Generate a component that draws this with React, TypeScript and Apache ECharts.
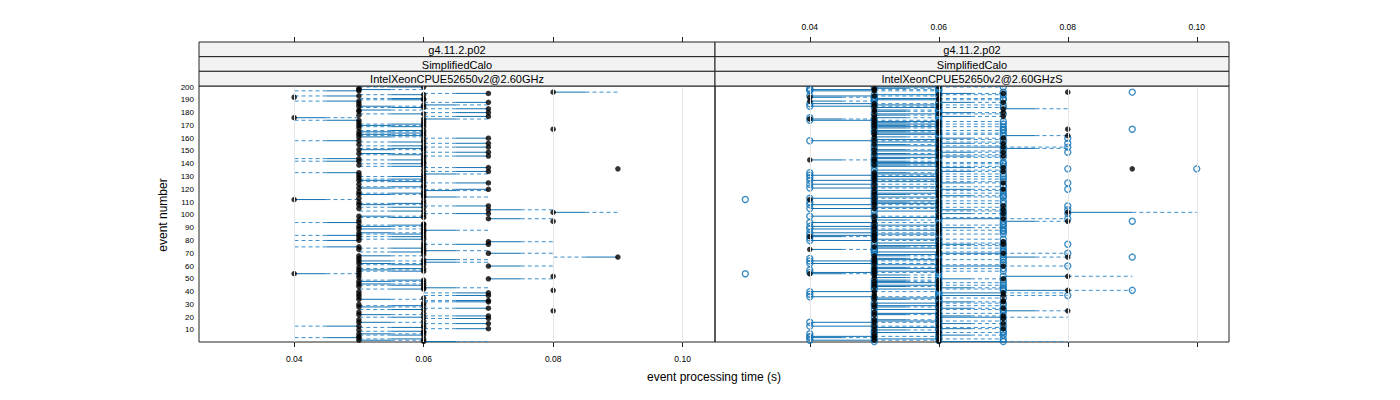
import React, { useEffect, useRef } from "react";
import * as echarts from "echarts";

// ---------------- data ----------------
// reference run (black points), event processing time in ms, events 1..200
const referenceTimesMs = [
  60, 50, 60, 50, 50, 60, 50, 60, 60, 50,
  70, 60, 50, 60, 70, 50, 60, 50, 70, 60,
  70, 50, 60, 50, 80, 60, 70, 50, 60, 50,
  60, 70, 70, 50, 60, 50, 70, 50, 70, 50,
  80, 60, 60, 50, 60, 50, 60, 50, 60, 70,
  50, 80, 50, 40, 50, 60, 50, 60, 50, 70,
  60, 50, 60, 50, 60, 50, 90, 50, 60, 70,
  60, 60, 50, 60, 50, 60, 70, 60, 70, 50,
  60, 50, 60, 50, 60, 50, 60, 60, 50, 60,
  50, 60, 60, 50, 80, 50, 70, 60, 50, 60,
  70, 80, 60, 70, 50, 60, 70, 50, 60, 50,
  60, 40, 50, 60, 60, 50, 60, 50, 60, 70,
  50, 60, 60, 50, 70, 60, 50, 60, 50, 60,
  50, 60, 50, 70, 60, 90, 70, 60, 50, 60,
  60, 50, 60, 50, 60, 70, 60, 50, 70, 60,
  50, 60, 70, 60, 50, 70, 60, 50, 60, 70,
  50, 60, 50, 60, 50, 60, 80, 50, 60, 50,
  60, 50, 60, 50, 60, 40, 70, 50, 60, 70,
  50, 50, 70, 60, 50, 60, 50, 70, 50, 60,
  60, 40, 50, 60, 70, 80, 50, 50, 50, 60,
];

// right panel black points (ms)
const rightTimesMs = [
  60, 50, 60, 50, 50, 60, 50, 60, 60, 50,
  70, 60, 50, 60, 70, 50, 60, 50, 70, 60,
  70, 50, 60, 50, 80, 60, 70, 50, 60, 50,
  60, 70, 70, 50, 60, 50, 70, 50, 70, 50,
  80, 60, 60, 50, 60, 50, 60, 50, 60, 70,
  50, 80, 50, 40, 50, 60, 50, 60, 50, 70,
  60, 50, 60, 50, 60, 50, 80, 50, 60, 70,
  60, 60, 40, 60, 50, 60, 70, 60, 70, 50,
  60, 50, 40, 50, 60, 50, 60, 60, 50, 60,
  50, 60, 60, 50, 80, 50, 70, 60, 50, 60,
  70, 80, 60, 70, 50, 60, 70, 50, 60, 50,
  60, 40, 50, 60, 60, 50, 60, 50, 60, 70,
  50, 60, 60, 50, 70, 60, 50, 60, 50, 60,
  50, 60, 50, 70, 60, 90, 70, 60, 50, 60,
  60, 50, 40, 50, 60, 70, 60, 50, 70, 60,
  50, 60, 70, 60, 50, 70, 60, 50, 60, 70,
  50, 80, 50, 60, 50, 60, 80, 50, 60, 50,
  60, 50, 60, 50, 40, 50, 70, 50, 60, 70,
  50, 50, 70, 60, 50, 60, 50, 70, 40, 60,
  60, 40, 50, 60, 70, 80, 50, 50, 50, 60,
];

// right panel open circles, lower run (ms, 0 = no point)
const rightLowMs = [
  50, 40, 50, 40, 40, 50, 40, 50, 50, 0,
  60, 50, 40, 50, 60, 40, 50, 0, 60, 50,
  60, 0, 50, 0, 70, 50, 60, 0, 50, 0,
  50, 60, 60, 0, 50, 40, 60, 40, 60, 40,
  70, 50, 50, 0, 50, 0, 50, 0, 50, 60,
  0, 70, 0, 30, 40, 50, 40, 50, 0, 60,
  50, 40, 50, 40, 50, 40, 70, 0, 50, 60,
  50, 50, 0, 50, 0, 50, 60, 50, 60, 40,
  50, 40, 0, 40, 50, 40, 50, 50, 40, 50,
  40, 50, 50, 40, 70, 0, 60, 50, 40, 50,
  60, 70, 50, 60, 40, 50, 60, 40, 50, 40,
  50, 30, 40, 50, 50, 0, 50, 0, 50, 60,
  40, 50, 50, 40, 60, 50, 40, 50, 40, 50,
  40, 50, 40, 60, 50, 80, 60, 50, 0, 50,
  50, 0, 0, 0, 50, 60, 50, 0, 60, 50,
  0, 50, 60, 50, 0, 60, 50, 40, 50, 60,
  0, 70, 0, 50, 0, 50, 70, 0, 50, 0,
  50, 0, 50, 40, 0, 40, 60, 0, 50, 60,
  0, 0, 60, 50, 40, 50, 40, 60, 0, 50,
  50, 0, 40, 50, 60, 70, 40, 40, 40, 50,
];

// right panel open circles, upper run (ms, 0 = no point)
const rightHighMs = [
  70, 60, 70, 60, 60, 70, 60, 70, 70, 60,
  0, 70, 60, 70, 0, 60, 70, 60, 0, 70,
  0, 60, 70, 60, 0, 70, 0, 60, 70, 60,
  70, 0, 0, 60, 70, 60, 80, 60, 0, 60,
  90, 70, 70, 60, 70, 60, 70, 60, 70, 0,
  60, 0, 60, 50, 60, 70, 60, 70, 60, 80,
  70, 60, 70, 60, 70, 60, 90, 60, 70, 80,
  70, 70, 50, 70, 60, 70, 80, 70, 0, 60,
  70, 60, 50, 60, 70, 60, 70, 70, 60, 70,
  60, 70, 70, 60, 90, 60, 80, 70, 60, 70,
  80, 0, 70, 80, 60, 70, 80, 60, 70, 60,
  70, 50, 60, 70, 70, 60, 70, 60, 70, 80,
  60, 70, 70, 60, 80, 70, 60, 70, 60, 70,
  60, 70, 60, 0, 70, 100, 0, 70, 60, 70,
  70, 60, 50, 60, 70, 0, 70, 60, 80, 70,
  60, 70, 80, 70, 60, 80, 70, 60, 70, 80,
  60, 0, 60, 70, 60, 70, 90, 60, 70, 60,
  70, 60, 70, 60, 50, 60, 0, 60, 70, 0,
  60, 60, 0, 70, 60, 70, 60, 0, 50, 70,
  70, 50, 60, 70, 0, 90, 60, 60, 60, 70,
];

// segments: [event, solid-end time ms, dashed-end time ms]
const leftSegments = [
  [1, 60, 70], [2, 50, 60], [3, 60, 50], [4, 50, 40], [6, 60, 50], [7, 50, 60], [9, 60, 50],
  [11, 70, 60], [12, 60, 50], [13, 50, 40], [15, 70, 60], [16, 50, 60], [19, 70, 60], [20, 60, 50],
  [21, 70, 60], [22, 50, 60], [26, 60, 50], [27, 70, 60], [28, 50, 60], [29, 60, 50], [32, 70, 60],
  [33, 70, 60], [34, 50, 60], [37, 70, 60], [39, 70, 60], [42, 60, 50], [43, 60, 70], [45, 60, 50],
  [46, 50, 60], [48, 50, 60], [49, 60, 50], [50, 70, 80], [54, 40, 50], [56, 60, 50], [57, 50, 60],
  [58, 60, 50], [60, 70, 80], [61, 60, 50], [62, 50, 60], [63, 60, 70], [64, 50, 60], [65, 60, 70],
  [67, 90, 80], [68, 50, 60], [70, 70, 80], [71, 60, 50], [72, 60, 70], [74, 60, 50], [75, 50, 40],
  [77, 70, 60], [79, 70, 80], [80, 50, 40], [81, 60, 50], [83, 60, 50], [84, 50, 40], [85, 60, 50],
  [86, 50, 60], [88, 60, 70], [89, 50, 60], [91, 50, 60], [92, 60, 50], [94, 50, 40], [97, 70, 80],
  [98, 60, 50], [99, 50, 60], [101, 70, 60], [102, 80, 90], [103, 60, 50], [104, 70, 80], [106, 60, 50],
  [107, 70, 60], [108, 50, 60], [109, 60, 50], [112, 40, 50], [114, 60, 70], [116, 50, 60], [117, 60, 50],
  [119, 60, 70], [120, 70, 60], [121, 50, 60], [122, 60, 50], [125, 70, 60], [126, 60, 50], [127, 50, 60],
  [128, 60, 50], [130, 60, 50], [132, 60, 70], [133, 50, 40], [134, 70, 60], [137, 70, 60], [138, 60, 50],
  [140, 60, 50], [142, 50, 40], [143, 60, 50], [144, 50, 40], [146, 70, 60], [147, 60, 50], [148, 50, 60],
  [149, 70, 60], [151, 50, 60], [152, 60, 50], [153, 70, 60], [154, 60, 50], [156, 70, 60], [157, 60, 50],
  [158, 50, 40], [160, 70, 60], [161, 50, 60], [162, 60, 50], [163, 50, 60], [164, 60, 50], [165, 50, 60],
  [166, 60, 50], [169, 60, 50], [170, 50, 60], [171, 60, 50], [174, 50, 40], [175, 60, 70], [176, 40, 50],
  [177, 70, 60], [179, 60, 50], [180, 70, 60], [182, 50, 60], [183, 70, 60], [184, 60, 50], [185, 50, 60],
  [186, 60, 70], [188, 70, 60], [189, 50, 40], [190, 60, 50], [191, 60, 50], [193, 50, 40], [194, 60, 50],
  [195, 70, 60], [196, 80, 90], [197, 50, 40], [198, 50, 60], [200, 60, 50],
];

const rightSegments = [
  [1, 60, 80], [2, 40, 60], [3, 50, 70], [4, 40, 50], [5, 40, 60], [6, 60, 70], [8, 50, 70], [10, 50, 60],
  [11, 60, 70], [12, 50, 70], [13, 40, 60], [15, 60, 70], [16, 40, 60], [17, 50, 70], [18, 50, 60], [20, 60, 80],
  [21, 60, 70], [22, 50, 60], [23, 50, 70], [25, 70, 80], [26, 50, 70], [27, 60, 70], [28, 50, 60], [29, 50, 70],
  [31, 50, 70], [32, 60, 70], [34, 50, 60], [35, 50, 70], [36, 40, 60], [37, 60, 80], [39, 60, 80], [40, 40, 60],
  [41, 70, 90], [42, 50, 70], [43, 60, 70], [44, 50, 60], [45, 50, 70], [47, 50, 70], [48, 50, 60], [49, 50, 60],
  [50, 60, 70], [51, 50, 60], [52, 70, 90], [53, 50, 60], [54, 40, 50], [55, 40, 60], [56, 50, 70], [58, 50, 70],
  [59, 50, 60], [60, 60, 80], [61, 50, 70], [62, 40, 60], [64, 40, 60], [65, 50, 70], [66, 50, 60], [67, 70, 80],
  [68, 50, 60], [69, 50, 70], [70, 60, 80], [71, 50, 70], [73, 40, 50], [74, 50, 70], [75, 50, 60], [76, 50, 70],
  [77, 60, 70], [78, 50, 70], [80, 40, 60], [81, 50, 70], [83, 40, 50], [84, 40, 60], [85, 50, 70], [86, 40, 60],
  [88, 50, 70], [89, 40, 60], [90, 60, 70], [91, 40, 60], [92, 50, 70], [94, 40, 60], [95, 70, 80], [96, 50, 60],
  [97, 60, 80], [98, 50, 70], [99, 40, 60], [101, 60, 70], [102, 80, 100], [103, 50, 70], [104, 60, 70], [105, 40, 60],
  [106, 50, 70], [108, 40, 60], [109, 50, 70], [110, 50, 60], [111, 50, 70], [113, 40, 60], [114, 50, 70], [115, 60, 70],
  [116, 50, 60], [117, 50, 70], [119, 50, 70], [120, 60, 70], [121, 40, 60], [122, 50, 70], [124, 40, 60], [125, 60, 70],
  [126, 50, 70], [127, 40, 60], [128, 50, 70], [130, 50, 70], [131, 40, 60], [132, 50, 70], [133, 50, 60], [134, 60, 70],
  [135, 50, 70], [137, 60, 70], [138, 50, 70], [139, 50, 60], [140, 50, 70], [141, 50, 70], [142, 50, 60], [143, 40, 50],
  [144, 50, 60], [145, 50, 70], [146, 60, 70], [147, 50, 70], [148, 50, 60], [149, 60, 70], [150, 50, 70], [151, 50, 60],
  [152, 70, 80], [153, 60, 80], [154, 50, 70], [155, 50, 60], [156, 60, 70], [157, 50, 70], [158, 40, 60], [159, 50, 70],
  [160, 60, 70], [161, 50, 60], [162, 70, 80], [163, 50, 70], [164, 50, 70], [165, 50, 60], [166, 50, 70], [168, 50, 60],
  [169, 50, 70], [170, 50, 60], [171, 50, 70], [172, 50, 60], [173, 50, 70], [174, 40, 60], [175, 40, 50], [176, 50, 60],
  [177, 60, 70], [178, 50, 60], [179, 50, 70], [180, 60, 70], [181, 50, 60], [182, 50, 60], [183, 70, 80], [184, 50, 70],
  [185, 40, 60], [186, 50, 70], [187, 40, 60], [188, 60, 70], [189, 40, 50], [190, 50, 70], [191, 50, 70], [192, 40, 50],
  [193, 40, 60], [194, 50, 70], [195, 60, 70], [197, 40, 60], [198, 40, 60], [199, 50, 60], [200, 50, 70],
];

const xTickValues = [0.04, 0.06, 0.08, 0.1];
const yTickValues = [10, 20, 30, 40, 50, 60, 70, 80, 90, 100, 110, 120, 130, 140, 150, 160, 170, 180, 190, 200];
const stripLabels = [
  ["g4.11.2.p02", "SimplifiedCalo", "IntelXeonCPUE52650v2@2.60GHz"],
  ["g4.11.2.p02", "SimplifiedCalo", "IntelXeonCPUE52650v2@2.60GHzS"],
];
const xTitle = "event processing time (s)";
const yTitle = "event number";

// ---------------- layout / style ----------------
const FONT = "'Liberation Sans', Arial, sans-serif";
const X_MIN = 0.0253;
const X_MAX = 0.105;
const Y_MIN = 0.6;
const Y_MAX = 200.8;
const PANELS = [
  { left: 199, width: 516 },
  { left: 715, width: 514 },
];
const PLOT_TOP = 86;
const PLOT_H = 256;
const STRIP_TOP = 42;
const STRIP_H = (PLOT_TOP - STRIP_TOP) / 3;
const SOLID = "#1170b0";
const DASHED = "#3b8ecb";
const CIRCLE = "#0f72b4";

const toPoints = (arr: number[]) =>
  arr.map((ms, i) => (ms > 0 ? [ms / 1000, i + 1] : null)).filter(Boolean);
const toSeg = (segs: number[][]) => segs.map(([e, a, b]) => [e, a / 1000, b / 1000]);

function segRender(params: any, api: any) {
  const e = api.value(0);
  const a = api.coord([api.value(1), e]);
  const b = api.coord([api.value(2), e]);
  const mx = (a[0] + b[0]) / 2;
  return {
    type: "group",
    children: [
      {
        type: "line",
        shape: { x1: a[0], y1: a[1], x2: mx, y2: a[1] },
        style: { stroke: SOLID, lineWidth: 1 },
      },
      {
        type: "line",
        shape: { x1: mx, y1: a[1], x2: b[0], y2: b[1] },
        style: { stroke: DASHED, lineWidth: 1, lineDash: [4, 3] },
      },
    ],
  };
}

export default function App() {
  const ref = useRef<HTMLDivElement>(null);
  useEffect(() => {
    document.body.style.margin = "0";
    const chart = echarts.init(ref.current!, null, { renderer: "svg" });

    const grid = PANELS.map((p) => ({
      left: p.left,
      top: PLOT_TOP,
      width: p.width,
      height: PLOT_H,
      show: true,
      borderColor: "#222",
      borderWidth: 1,
      backgroundColor: "transparent",
    }));

    const tickCommon = {
      show: true,
      customValues: xTickValues,
      length: 5,
      inside: false,
      lineStyle: { color: "#222", width: 1 },
    };
    const labelCommon = (show: boolean, margin: number) => ({
      show,
      customValues: xTickValues,
      formatter: (v: number) => v.toFixed(2),
      fontFamily: FONT,
      fontSize: 8.5,
      color: "#000",
      margin,
    });

    const xAxis: any[] = [];
    PANELS.forEach((_, gi) => {
      xAxis.push({
        type: "value",
        gridIndex: gi,
        position: "bottom",
        min: X_MIN,
        max: X_MAX,
        axisLine: { show: false },
        axisTick: tickCommon,
        axisLabel: labelCommon(gi === 0, 12),
        splitLine: { show: false },
      });
      xAxis.push({
        type: "value",
        gridIndex: gi,
        position: "top",
        offset: PLOT_TOP - STRIP_TOP,
        min: X_MIN,
        max: X_MAX,
        axisLine: { show: false },
        axisTick: tickCommon,
        axisLabel: labelCommon(gi === 1, 11),
        splitLine: { show: false },
      });
    });

    const yAxis = PANELS.map((_, gi) => ({
      type: "value",
      gridIndex: gi,
      min: Y_MIN,
      max: Y_MAX,
      axisLine: { show: false },
      axisTick: { show: false },
      axisLabel: {
        show: gi === 0,
        customValues: yTickValues,
        fontFamily: FONT,
        fontSize: 8,
        color: "#000",
        margin: 5,
      },
      splitLine: { show: false },
    }));

    const gridLineSeries = PANELS.map((_, gi) => ({
      type: "scatter",
      xAxisIndex: gi * 2,
      yAxisIndex: gi,
      data: [],
      z: 1,
      silent: true,
      markLine: {
        silent: true,
        symbol: "none",
        label: { show: false },
        lineStyle: { color: "#e6e6e6", width: 1, type: "solid" },
        data: xTickValues.map((v) => ({ xAxis: v })),
        animation: false,
      },
    }));

    const series: any[] = [
      ...gridLineSeries,
      {
        type: "custom",
        xAxisIndex: 0,
        yAxisIndex: 0,
        renderItem: segRender,
        data: toSeg(leftSegments),
        encode: { x: [1, 2], y: 0 },
        clip: true,
        z: 2,
        silent: true,
      },
      {
        type: "scatter",
        xAxisIndex: 0,
        yAxisIndex: 0,
        data: toPoints(referenceTimesMs),
        symbolSize: 5.5,
        itemStyle: { color: "#000" },
        z: 4,
        silent: true,
      },
      {
        type: "custom",
        xAxisIndex: 2,
        yAxisIndex: 1,
        renderItem: segRender,
        data: toSeg(rightSegments),
        encode: { x: [1, 2], y: 0 },
        clip: true,
        z: 2,
        silent: true,
      },
      {
        type: "scatter",
        xAxisIndex: 2,
        yAxisIndex: 1,
        data: toPoints(rightLowMs),
        symbolSize: 6,
        itemStyle: { color: "rgba(0,0,0,0)", borderColor: CIRCLE, borderWidth: 1.4 },
        z: 3,
        silent: true,
      },
      {
        type: "scatter",
        xAxisIndex: 2,
        yAxisIndex: 1,
        data: toPoints(rightHighMs),
        symbolSize: 6,
        itemStyle: { color: "rgba(0,0,0,0)", borderColor: CIRCLE, borderWidth: 1.4 },
        z: 3,
        silent: true,
      },
      {
        type: "scatter",
        xAxisIndex: 2,
        yAxisIndex: 1,
        data: toPoints(rightTimesMs),
        symbolSize: 5.5,
        itemStyle: { color: "#000" },
        z: 4,
        silent: true,
      },
    ];

    const graphic: any[] = [];
    PANELS.forEach((p, pi) => {
      stripLabels[pi].forEach((label, k) => {
        const y = STRIP_TOP + k * STRIP_H;
        graphic.push({
          type: "rect",
          shape: { x: p.left, y, width: p.width, height: STRIP_H },
          style: { fill: "#f2f2f2", stroke: "#222", lineWidth: 1 },
          z: 10,
        });
        graphic.push({
          type: "text",
          x: p.left + p.width / 2,
          y: y + STRIP_H / 2 + 0.5,
          style: {
            text: label,
            fontFamily: FONT,
            fontSize: 11,
            fill: "#000",
            align: "center",
            verticalAlign: "middle",
          },
          z: 11,
        });
      });
    });
    graphic.push({
      type: "text",
      x: 714,
      y: 377,
      style: {
        text: xTitle,
        fontFamily: FONT,
        fontSize: 12,
        fill: "#000",
        align: "center",
        verticalAlign: "middle",
      },
    });
    graphic.push({
      type: "text",
      x: 163,
      y: 215,
      rotation: Math.PI / 2,
      style: {
        text: yTitle,
        fontFamily: FONT,
        fontSize: 12,
        fill: "#000",
        align: "center",
        verticalAlign: "middle",
      },
    });

    chart.setOption({
      animation: false,
      backgroundColor: "#fff",
      grid,
      xAxis,
      yAxis,
      series,
      graphic,
    });
    return () => chart.dispose();
  }, []);
  return <div ref={ref} style={{ width: 1400, height: 400 }} />;
}
